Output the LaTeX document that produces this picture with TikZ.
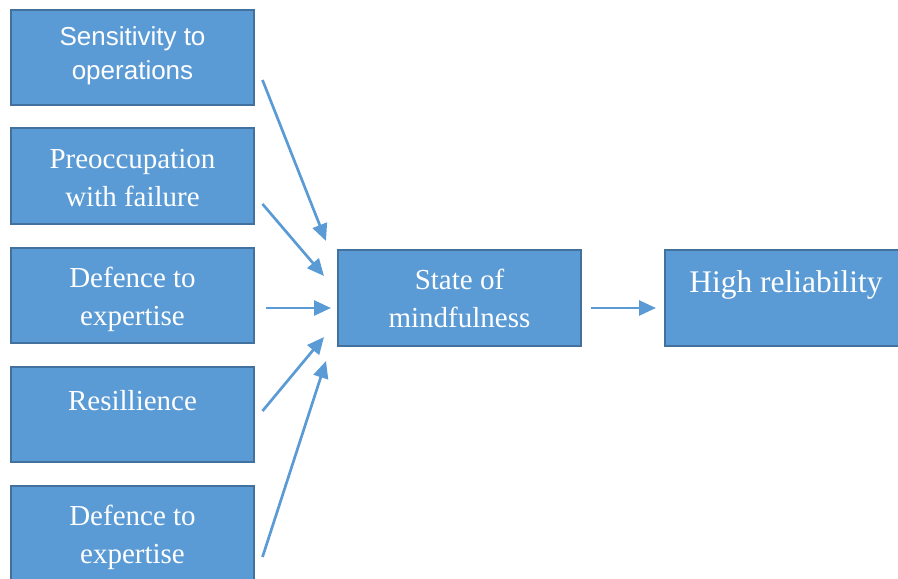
\documentclass[tikz,border=0pt]{standalone}
\usepackage{fontspec}
\setmainfont{Liberation Serif}
\newfontfamily\arialfont{Liberation Sans}
\usetikzlibrary{arrows.meta}
\definecolor{boxfill}{HTML}{5B9BD5}
\definecolor{boxline}{HTML}{41719C}
\definecolor{arrowcol}{HTML}{5B9BD5}
\tikzset{
  box/.style={draw=boxline, fill=boxfill, line width=2pt},
  lbl/.style={anchor=base, text=white, inner sep=0pt, font=\fontsize{29}{38}\selectfont},
  biglbl/.style={anchor=base, text=white, inner sep=0pt, font=\fontsize{31.5}{38}\selectfont},
  albl/.style={anchor=base, text=white, inner sep=0pt, font=\arialfont\fontsize{26}{33}\selectfont},
  conn/.style={draw=arrowcol, line width=2.7pt, -{Triangle[length=17pt,width=15pt]}}
}
\begin{document}
\begin{tikzpicture}[x=1pt,y=-1pt]
\useasboundingbox (0,0) rectangle (898,579);
\begin{scope}
\clip (0,0) rectangle (898,579);
% left column
\draw[box] (11,10) rectangle (254,105);
\draw[box] (11,128) rectangle (254,224);
\draw[box] (11,248) rectangle (254,343);
\draw[box] (11,367) rectangle (254,462);
\draw[box] (11,486) rectangle (254,590);
\draw[box] (338,250) rectangle (581,346);
\draw[box] (665,250) rectangle (910,346);
\end{scope}
\node[albl] (t1a) at (132.5,45) {Sensitivity to};
\node[albl] (t1b) at (132.5,79) {operations};
\node[lbl] (t2a) at (132.5,168) {Preoccupation};
\node[lbl] (t2b) at (132.5,206) {with failure};
\node[lbl] (t3a) at (132.5,287) {Defence to};
\node[lbl] (t3b) at (132.5,325) {expertise};
\node[lbl] (t4a) at (132.5,410) {Resillience};
\node[lbl] (t5a) at (132.5,525) {Defence to};
\node[lbl] (t5b) at (132.5,563) {expertise};
\node[lbl] (tma) at (459.5,289) {State of};
\node[lbl] (tmb) at (459.5,327) {mindfulness};
\node[biglbl] (tra) at (786,292) {High reliability};
% connector end points
\coordinate (s1) at (262.5,80);
\coordinate (e1) at (326,241);
\coordinate (s2) at (262.5,204);
\coordinate (e2) at (324,276);
\coordinate (s3) at (266,308);
\coordinate (e3) at (331,308);
\coordinate (s4) at (262.5,411);
\coordinate (e4) at (324,337);
\coordinate (s5) at (262.5,557);
\coordinate (e5) at (326,361);
\coordinate (s6) at (590.5,308);
\coordinate (e6) at (656,308);
\draw[conn] (s1) -- (e1);
\draw[conn] (s2) -- (e2);
\draw[conn] (s3) -- (e3);
\draw[conn] (s4) -- (e4);
\draw[conn] (s5) -- (e5);
\draw[conn] (s6) -- (e6);
\end{tikzpicture}
\end{document}
